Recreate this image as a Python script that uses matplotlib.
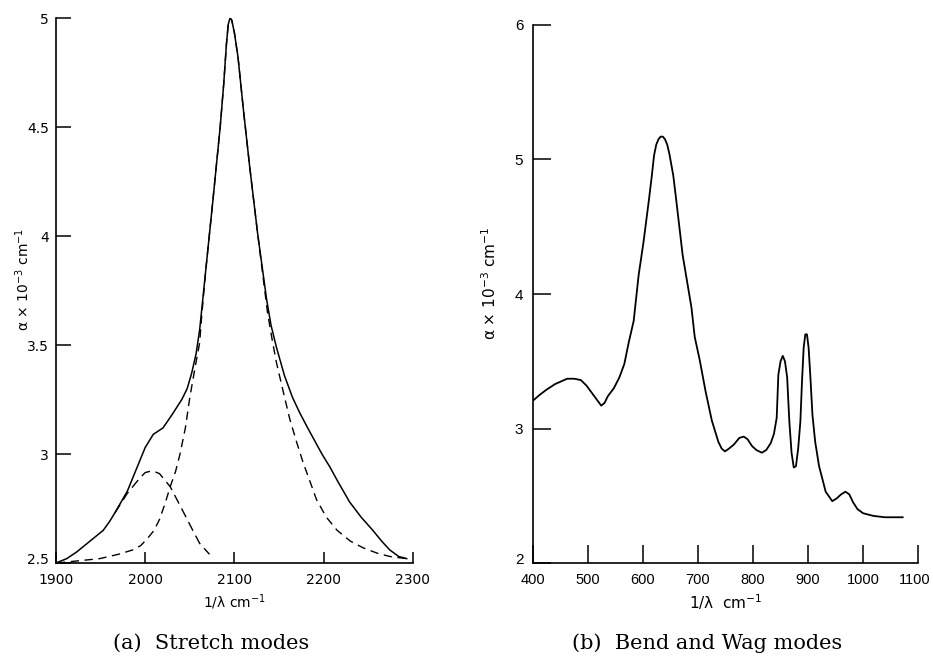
import matplotlib.pyplot as plt
import matplotlib.transforms as mtransforms

# (a) stretch modes: measured curve and the two fitted components
a_x = [1900, 1912, 1923, 1938, 1953, 1960, 1966, 1980, 1994, 2000, 2009, 2020, 2030,
       2041, 2047, 2052, 2057, 2061, 2068, 2076, 2084, 2088, 2091, 2093, 2095, 2097,
       2100, 2104, 2110, 2117, 2126, 2136, 2141, 2147, 2156, 2165, 2173, 2182, 2190,
       2198, 2207, 2215, 2222, 2229, 2242, 2255, 2265, 2274, 2284, 2293]
a_y = [2.50, 2.52, 2.55, 2.60, 2.65, 2.69, 2.73, 2.83, 2.97, 3.03, 3.09, 3.12, 3.18,
       3.25, 3.30, 3.37, 3.46, 3.57, 3.85, 4.17, 4.50, 4.70, 4.88, 4.97, 5.00, 4.99,
       4.93, 4.82, 4.58, 4.32, 4.01, 3.71, 3.59, 3.49, 3.36, 3.26, 3.19, 3.12, 3.06,
       3.00, 2.94, 2.88, 2.83, 2.78, 2.71, 2.65, 2.60, 2.56, 2.53, 2.52]

big_x = [1901, 1925, 1949, 1970, 1986, 1995, 2002, 2010, 2016, 2022, 2028, 2034, 2039,
         2045, 2050, 2056, 2061, 2063, 2068, 2076, 2084, 2088, 2091, 2093, 2095, 2097,
         2100, 2104, 2110, 2117, 2126, 2137, 2142, 2147, 2155, 2162, 2170, 2177, 2185,
         2192, 2203, 2215, 2230, 2244, 2260, 2274, 2293]
big_y = [2.50, 2.51, 2.52, 2.54, 2.56, 2.58, 2.61, 2.65, 2.70, 2.77, 2.85, 2.92, 3.00,
         3.12, 3.26, 3.40, 3.51, 3.62, 3.85, 4.17, 4.50, 4.70, 4.88, 4.97, 5.00, 4.99,
         4.93, 4.82, 4.58, 4.32, 4.01, 3.65, 3.53, 3.42, 3.28, 3.16, 3.05, 2.96, 2.87,
         2.79, 2.71, 2.65, 2.60, 2.57, 2.545, 2.53, 2.52]

small_x = [1966, 1980, 1994, 2000, 2005, 2010, 2016, 2028, 2042, 2052, 2061, 2072]
small_y = [2.73, 2.82, 2.89, 2.915, 2.92, 2.92, 2.91, 2.85, 2.74, 2.66, 2.59, 2.54]

# (b) bend and wag modes
b_x = [398, 412, 425, 440, 462, 475, 487, 497, 506, 515, 524, 530, 536, 547, 557, 566,
       574, 583, 592, 601, 611, 616, 620, 624, 628, 632, 636, 640, 644, 648, 655, 660,
       672, 688, 694, 703, 714, 725, 737, 743, 749, 756, 765, 775, 783, 790, 798, 806,
       816, 824, 832, 838, 843, 846, 850, 854, 858, 862, 866, 870, 874, 878, 882, 886,
       889, 892, 895, 898, 901, 904, 908, 913, 920, 927, 932, 944, 952, 960, 968, 975,
       982, 990, 1000, 1019, 1040, 1072]
b_y = [3.20, 3.25, 3.29, 3.33, 3.37, 3.37, 3.36, 3.32, 3.27, 3.22, 3.17, 3.19, 3.24,
       3.30, 3.38, 3.48, 3.64, 3.80, 4.14, 4.39, 4.71, 4.88, 5.03, 5.11, 5.15, 5.17,
       5.17, 5.15, 5.11, 5.04, 4.88, 4.71, 4.29, 3.90, 3.68, 3.51, 3.27, 3.06, 2.90,
       2.85, 2.83, 2.85, 2.88, 2.93, 2.94, 2.92, 2.87, 2.84, 2.82, 2.84, 2.89, 2.96,
       3.08, 3.40, 3.50, 3.54, 3.50, 3.38, 3.05, 2.82, 2.71, 2.72, 2.85, 3.05, 3.35,
       3.60, 3.70, 3.70, 3.60, 3.40, 3.10, 2.90, 2.72, 2.61, 2.53, 2.46, 2.48, 2.51,
       2.53, 2.51, 2.45, 2.40, 2.37, 2.35, 2.34, 2.34]

a_xticks = [1900, 2000, 2100, 2200, 2300]
a_yticks = [2.5, 3, 3.5, 4, 4.5, 5]
a_ylabels = ["2.5", "3", "3.5", "4", "4.5", "5"]
b_xticks = [400, 500, 600, 700, 800, 900, 1000, 1100]
b_yticks = [2, 3, 4, 5, 6]

fig = plt.figure(figsize=(9.33, 6.72), dpi=100)
ax1 = fig.add_axes([0.060, 0.1622, 0.3826, 0.811])
ax2 = fig.add_axes([0.5713, 0.1622, 0.4127, 0.8006])

ax1.plot(a_x, a_y, color='k', lw=1.1)
ax1.plot(big_x, big_y, color='k', lw=1.0, ls=(0, (6, 4)))
ax1.plot(small_x, small_y, color='k', lw=1.0, ls=(0, (7, 4)))
ax1.set_xlim(1900, 2300)
ax1.set_ylim(2.5, 5.0)
ax1.set_xticks(a_xticks)
ax1.set_yticks(a_yticks)
ax1.set_yticklabels(a_ylabels)
ax1.tick_params(axis='y', direction='in', length=11, width=1.1, labelsize=10, pad=5)
ax1.tick_params(axis='x', direction='in', length=8, width=1.1, labelsize=10, pad=7)
ax1.set_xlabel("1/λ cm$^{-1}$", fontsize=10, labelpad=4)
ax1.set_ylabel("α × 10$^{-3}$ cm$^{-1}$", fontsize=10)
ax1.yaxis.set_label_coords(-0.067, 0.52)

ax2.plot(b_x, b_y, color='k', lw=1.3)
ax2.set_xlim(400, 1100)
ax2.set_ylim(2, 6)
ax2.set_xticks(b_xticks)
ax2.set_yticks(b_yticks)
ax2.tick_params(axis='y', direction='in', length=13, width=1.1, labelsize=11, pad=7)
ax2.tick_params(axis='x', direction='in', length=13, width=1.1, labelsize=10.5, pad=7)
for lab in ax2.get_xticklabels() + ax2.get_yticklabels():
    lab.set_family('Liberation Sans')
ax2.set_xlabel("1/λ  cm$^{-1}$", fontsize=11, labelpad=4)
ax2.set_ylabel("α × 10$^{-3}$ cm$^{-1}$", fontsize=11)
ax2.yaxis.set_label_coords(-0.088, 0.52)

# nudge corner labels so they do not collide
up = mtransforms.ScaledTranslation(0, 3 / 72, fig.dpi_scale_trans)
ax1.get_yticklabels()[0].set_transform(ax1.get_yticklabels()[0].get_transform() + up)
ax2.get_yticklabels()[0].set_transform(ax2.get_yticklabels()[0].get_transform() + up)
left = mtransforms.ScaledTranslation(-2.5 / 72, 0, fig.dpi_scale_trans)
ax2.get_xticklabels()[-1].set_transform(ax2.get_xticklabels()[-1].get_transform() + left)

for ax in (ax1, ax2):
    ax.spines['top'].set_visible(False)
    ax.spines['right'].set_visible(False)
    ax.spines['left'].set_linewidth(1.2)
    ax.spines['bottom'].set_linewidth(1.2)

fig.text(0.226, 0.043, "(a)  Stretch modes", ha='center', va='center',
         family='DejaVu Serif', fontsize=15)
fig.text(0.758, 0.043, "(b)  Bend and Wag modes", ha='center', va='center',
         family='DejaVu Serif', fontsize=15)

fig.savefig("out.png", dpi=100, facecolor='white')
